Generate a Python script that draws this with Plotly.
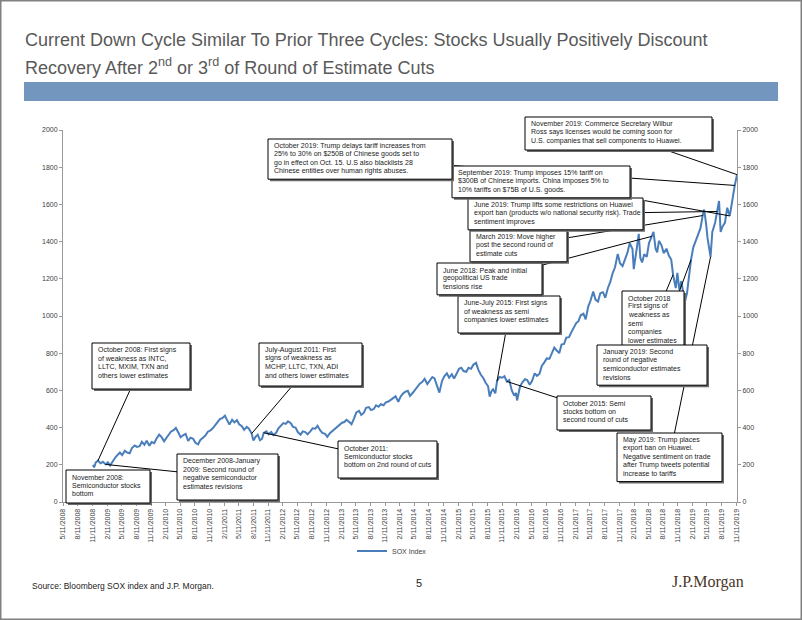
import plotly.graph_objects as go
import pandas as pd

# ---------------- data ----------------
dates = [
    "2008-11-14", "2008-11-21", "2008-12-01", "2008-12-15",
    "2009-01-01", "2009-01-15", "2009-02-01", "2009-02-15", "2009-03-01", "2009-03-15",
    "2009-04-01", "2009-04-15", "2009-05-01", "2009-05-15", "2009-06-01", "2009-06-15",
    "2009-07-01", "2009-07-15", "2009-08-01", "2009-08-15", "2009-09-01", "2009-09-15",
    "2009-10-01", "2009-10-15", "2009-11-01", "2009-11-15", "2009-12-01", "2009-12-15",
    "2010-01-01", "2010-01-15", "2010-02-01", "2010-02-15", "2010-03-01", "2010-03-15",
    "2010-04-01", "2010-04-15", "2010-05-01", "2010-05-15", "2010-06-01", "2010-06-15",
    "2010-07-01", "2010-07-15", "2010-08-01", "2010-08-15", "2010-09-01", "2010-09-15",
    "2010-10-01", "2010-10-15", "2010-11-01", "2010-11-15", "2010-12-01", "2010-12-15",
    "2011-01-01", "2011-01-15", "2011-02-01", "2011-02-15", "2011-03-01", "2011-03-15",
    "2011-04-01", "2011-04-15", "2011-05-01", "2011-05-15", "2011-06-01", "2011-06-15",
    "2011-07-01", "2011-07-15", "2011-08-01", "2011-08-12", "2011-08-25", "2011-09-08",
    "2011-09-22", "2011-10-05", "2011-10-15", "2011-11-01", "2011-11-15", "2011-12-01",
    "2011-12-15",
    "2012-01-01", "2012-01-15", "2012-02-01", "2012-02-15", "2012-03-01", "2012-03-15",
    "2012-04-01", "2012-04-15", "2012-05-01", "2012-05-15", "2012-06-01", "2012-06-15",
    "2012-07-01", "2012-07-15", "2012-08-01", "2012-08-15", "2012-09-01", "2012-09-15",
    "2012-10-01", "2012-10-15", "2012-11-01", "2012-11-15", "2012-12-01", "2012-12-15",
    "2013-01-01", "2013-01-15", "2013-02-01", "2013-02-15", "2013-03-01", "2013-03-15",
    "2013-04-01", "2013-04-15", "2013-05-01", "2013-05-15", "2013-06-01", "2013-06-15",
    "2013-07-01", "2013-07-15", "2013-08-01", "2013-08-15", "2013-09-01", "2013-09-15",
    "2013-10-01", "2013-10-15", "2013-11-01", "2013-11-15", "2013-12-01", "2013-12-15",
    "2014-01-01", "2014-01-15", "2014-02-01", "2014-02-15", "2014-03-01", "2014-03-15",
    "2014-04-01", "2014-04-15", "2014-05-01", "2014-05-15", "2014-06-01", "2014-06-15",
    "2014-07-01", "2014-07-15", "2014-08-01", "2014-08-15", "2014-09-01", "2014-09-15",
    "2014-10-01", "2014-10-15", "2014-11-01", "2014-11-15", "2014-12-01", "2014-12-15",
    "2015-01-01", "2015-01-15", "2015-02-01", "2015-02-15", "2015-03-01", "2015-03-15",
    "2015-04-01", "2015-04-15", "2015-05-01", "2015-05-15", "2015-06-01", "2015-06-15",
    "2015-07-01", "2015-07-15", "2015-08-01", "2015-08-15", "2015-08-25", "2015-09-05",
    "2015-09-15", "2015-09-29", "2015-10-10", "2015-10-25", "2015-11-10", "2015-11-25",
    "2015-12-10", "2015-12-25",
    "2016-01-10", "2016-01-25", "2016-02-05", "2016-02-12", "2016-03-01", "2016-03-15",
    "2016-04-01", "2016-04-15", "2016-05-01", "2016-05-15", "2016-06-01", "2016-06-15",
    "2016-07-01", "2016-07-15", "2016-08-01", "2016-08-15", "2016-09-01", "2016-09-15",
    "2016-10-01", "2016-10-15", "2016-11-01", "2016-11-15", "2016-12-01", "2016-12-15",
    "2017-01-01", "2017-01-15", "2017-02-01", "2017-02-15", "2017-03-01", "2017-03-15",
    "2017-04-01", "2017-04-15", "2017-05-01", "2017-05-15", "2017-06-01", "2017-06-15",
    "2017-07-01", "2017-07-15", "2017-08-01", "2017-08-15", "2017-09-01", "2017-09-15",
    "2017-10-01", "2017-10-15", "2017-11-01", "2017-11-15", "2017-12-01", "2017-12-15",
    "2018-01-01", "2018-01-15", "2018-02-01", "2018-02-09", "2018-02-20", "2018-03-01",
    "2018-03-12", "2018-03-22", "2018-04-02", "2018-04-15", "2018-05-01", "2018-05-15",
    "2018-06-01", "2018-06-12", "2018-06-25", "2018-07-05", "2018-07-16", "2018-08-01",
    "2018-08-15", "2018-09-01", "2018-09-15", "2018-10-01", "2018-10-12", "2018-10-29",
    "2018-11-08", "2018-11-20", "2018-12-03", "2018-12-24",
    "2019-01-07", "2019-01-18", "2019-02-01", "2019-02-15", "2019-03-01", "2019-03-15",
    "2019-04-01", "2019-04-15", "2019-04-24", "2019-05-06", "2019-05-15", "2019-06-03",
    "2019-06-14", "2019-07-01", "2019-07-15", "2019-07-26", "2019-08-05", "2019-08-15",
    "2019-09-01", "2019-09-15", "2019-10-01", "2019-10-15", "2019-11-01", "2019-11-15",
]

sox = [
    200, 186, 212, 222,
    208, 216, 202, 214, 196, 218,
    238, 252, 266, 252, 276, 266,
    262, 290, 304, 296, 300, 324,
    308, 330, 302, 322, 316, 340,
    362, 350, 326, 344, 358, 378,
    386, 398, 372, 348, 360, 366,
    328, 346, 340, 318, 310, 334,
    346, 356, 378, 384, 396, 412,
    426, 446, 452, 464, 440, 416,
    442, 428, 440, 418, 408, 388,
    404, 394, 368, 330, 350, 362,
    332, 340, 372, 380, 364, 376,
    360,
    372, 396, 412, 424, 420, 434,
    424, 404, 400, 376, 362, 380,
    376, 364, 380, 396, 394, 410,
    386, 372, 366, 350, 370, 380,
    392, 402, 416, 426, 430, 442,
    430, 418, 450, 482, 490, 468,
    480, 506, 510, 494, 500, 520,
    512, 526, 520, 536, 540, 548,
    556, 568, 538, 566, 582, 592,
    598, 570, 586, 602, 622, 636,
    646, 662, 634, 652, 672, 664,
    622, 588, 652, 676, 692, 668,
    686, 664, 692, 716, 722, 704,
    700, 722, 716, 738, 748, 712,
    684, 668, 640, 622, 566, 596,
    606, 584, 650, 672, 668, 676,
    648, 656,
    600, 572, 586, 546, 620, 642,
    660, 656, 630, 650, 692, 678,
    690, 732, 752, 772, 770, 794,
    830, 816, 800, 846, 850, 884,
    886, 912, 936, 962, 972, 1004,
    1012, 982, 1052, 1082, 1132, 1088,
    1078, 1122, 1128, 1098, 1152, 1182,
    1232, 1262, 1334, 1284, 1268, 1302,
    1342, 1392, 1360, 1252, 1336, 1372,
    1442, 1312, 1288, 1332, 1318, 1392,
    1428, 1452, 1362, 1342, 1404, 1380,
    1338, 1362, 1326, 1302, 1222, 1150,
    1232, 1142, 1188, 1072,
    1122, 1206, 1302, 1368, 1402, 1442,
    1472, 1540, 1572, 1498, 1420, 1318,
    1452, 1500, 1562, 1618, 1452, 1478,
    1502, 1582, 1538, 1622, 1702, 1760,
]

series_name = "SOX Index"
y_ticks = [0, 200, 400, 600, 800, 1000, 1200, 1400, 1600, 1800, 2000]
tick_years = list(range(2008, 2020))
tick_dates = []
tick_labels = []
for yr in tick_years:
    for m in [2, 5, 8, 11]:
        d = pd.Timestamp(yr, m, 11)
        if pd.Timestamp(2008, 5, 11) <= d <= pd.Timestamp(2019, 11, 11):
            tick_dates.append(d.strftime("%Y-%m-%d"))
            tick_labels.append(f"{m}/11/{yr}")

x_start, x_end = "2008-05-11", "2019-11-15"

title_1 = "Current Down Cycle Similar To Prior Three Cycles: Stocks Usually Positively Discount"
title_2 = "Recovery After 2<sup>nd</sup> or 3<sup>rd</sup> of Round of Estimate Cuts"
source_text = "Source: Bloomberg SOX index and J.P. Morgan."
page_no = "5"
logo_text = "J.P.Morgan"

# callouts: text, target date on the series (None = no leader line), box in figure pixels
callouts = [
    ("October 2008: First signs<br>of weakness as INTC,<br>LLTC, MXIM, TXN and<br>others lower estimates",
     "2008-12-15", (92, 343, 190, 389)),
    ("November 2008:<br>Semiconductor stocks<br>bottom",
     None, (66, 470, 150, 503)),
    ("December 2008-January<br>2009: Second round of<br>negative semiconductor<br>estimates revisions",
     "2009-02-01", (177, 454, 278, 500)),
    ("July-August 2011: First<br>signs of weakness as<br>MCHP, LLTC, TXN, ADI<br>and others lower estimates",
     "2011-08-01", (259, 343, 362, 386)),
    ("October 2011:<br>Semiconductor stocks<br>bottom on 2nd round of cuts",
     "2011-10-15", (338, 441, 437, 478)),
    ("June-July 2015: First signs<br>of weakness as semi<br>companies lower estimates",
     "2015-10-10", (458, 296, 560, 333)),
    ("October 2015: Semi<br>stocks bottom on<br>second round of cuts",
     "2015-12-10", (557, 396, 651, 430)),
    ("June 2018: Peak and initial<br>geopolitical US trade<br>tensions rise",
     "2018-06-01", (437, 263, 542, 292)),
    ("March 2019: Move higher<br>post the second round of<br>estimate cuts",
     "2019-04-15", (470, 230, 567, 258)),
    ("October 2018<br>First signs of<br>weakness as<br>semi<br>companies<br>lower estimates",
     "2018-10-12", (622, 291, 684, 354)),
    ("January 2019: Second<br>round of negative<br>semiconductor estimates<br>revisions",
     "2019-02-01", (597, 345, 707, 380)),
    ("May 2019: Trump places<br>export ban on Huawei.<br>Negative sentiment on trade<br>after Trump tweets potential<br>increase to tariffs",
     "2019-06-03", (617, 433, 722, 477)),
    ("June 2019: Trump lifts some restrictions on Huawei<br>export ban (products w/o national security risk). Trade<br>sentiment improves",
     "2019-07-15", (468, 198, 643, 227)),
    ("September 2019: Trump imposes 15% tariff on<br>$300B of Chinese imports. China imposes 5% to<br>10% tariffs on $75B of U.S. goods.",
     "2019-10-01", (452, 166, 630, 195)),
    ("October 2019: Trump delays tariff increases from<br>25% to 30% on $250B of Chinese goods set to<br>go in effect on Oct. 15. U.S also blacklists 28<br>Chinese entities over human rights abuses.",
     "2019-11-01", (268, 139, 452, 176)),
    ("November 2019: Commerce Secretary Wilbur<br>Ross says licenses would be coming soon for<br>U.S. companies that sell components to Huawei.",
     "2019-11-15", (525, 117, 712, 150)),
]

# ---------------- layout geometry ----------------
W, H = 802, 620
L, R, T, B = 63, 737, 130, 502
PW, PH = R - L, B - T
FS = 7            # callout font size
LS = 8.4          # callout line spacing (px)
PAD_X, PAD_TOP, PAD_BOT = 5, 7, 5


def px2x(px):
    return (px - L) / PW


def py2y(py):
    return (B - py) / PH


t0 = pd.Timestamp(x_start)
t1 = pd.Timestamp(x_end)
ser = pd.Series(sox, index=pd.to_datetime(dates))

ANN_FONT = dict(family="Arial, Liberation Sans, sans-serif", size=FS, color="#1a1a1a")
TITLE_FONT = dict(family="Arial, Liberation Sans, sans-serif", size=18, color="#595959")

fig = go.Figure()
fig.add_trace(go.Scatter(x=dates, y=sox, mode="lines", name=series_name,
                         line=dict(color="#4A7EBB", width=2), yaxis="y"))
fig.add_trace(go.Scatter(x=dates, y=sox, mode="lines", showlegend=False,
                         line=dict(color="rgba(0,0,0,0)", width=0), yaxis="y2",
                         hoverinfo="skip"))

leader_shapes = []
box_shapes = []
annotations = []

# outer frame + blue band
frame_shapes = [
    dict(type="rect", xref="paper", yref="paper",
         x0=px2x(0.75), x1=px2x(W - 0.75), y0=py2y(H - 0.75), y1=py2y(0.75),
         line=dict(color="#808080", width=1.5), fillcolor="rgba(0,0,0,0)"),
    dict(type="rect", xref="paper", yref="paper",
         x0=px2x(24), x1=px2x(778), y0=py2y(101), y1=py2y(82),
         line=dict(width=0), fillcolor="#7396BF"),
]

annotations.append(dict(text=title_1, xref="paper", yref="paper", x=px2x(23), y=py2y(40),
                        xanchor="left", yanchor="middle", showarrow=False, font=TITLE_FONT))
annotations.append(dict(text=title_2, xref="paper", yref="paper", x=px2x(23), y=py2y(67),
                        xanchor="left", yanchor="middle", showarrow=False, font=TITLE_FONT))

for text, tdate, (x0, y0, x1, y1) in callouts:
    lines = text.split("<br>")
    need = PAD_TOP + (len(lines) - 1) * LS + PAD_BOT + 3
    if y1 - y0 < need:
        y1 = y0 + need
    cx, cy = (x0 + x1) / 2, (y0 + y1) / 2
    if tdate is not None:
        idx = ser.index.get_indexer([pd.Timestamp(tdate)], method="nearest")[0]
        tx = ser.index[idx]
        tv = float(ser.iloc[idx])
        px = L + (tx - t0) / (t1 - t0) * PW
        py = T + (1 - tv / 2000) * PH
        dx, dy = px - cx, py - cy
        sx = ((x1 - x0) / 2) / abs(dx) if dx else 1e9
        sy = ((y1 - y0) / 2) / abs(dy) if dy else 1e9
        s = min(sx, sy)
        ex, ey = cx + dx * s, cy + dy * s
        leader_shapes.append(dict(type="line", xref="x", yref="y",
                                  xsizemode="pixel", ysizemode="pixel",
                                  xanchor=tx.strftime("%Y-%m-%d"), yanchor=tv,
                                  x0=0, y0=0, x1=ex - px, y1=py - ey,
                                  line=dict(color="#000000", width=1), layer="above"))
    box_shapes.append(dict(type="rect", xref="paper", yref="paper",
                           x0=px2x(x0 + 2), x1=px2x(x1 + 2), y0=py2y(y1 + 2), y1=py2y(y0 + 2),
                           line=dict(width=0), fillcolor="#6a6a6a", layer="above"))
    box_shapes.append(dict(type="rect", xref="paper", yref="paper",
                           x0=px2x(x0), x1=px2x(x1), y0=py2y(y1), y1=py2y(y0),
                           line=dict(color="#000000", width=1), fillcolor="#ffffff", layer="above"))
    for i, ln in enumerate(lines):
        annotations.append(dict(text=ln, xref="paper", yref="paper",
                                x=px2x(x0 + PAD_X), y=py2y(y0 + PAD_TOP + i * LS),
                                xanchor="left", yanchor="middle", showarrow=False,
                                borderpad=0, font=ANN_FONT))

annotations.append(dict(text=source_text, xref="paper", yref="paper", x=px2x(30), y=py2y(586),
                        xanchor="left", yanchor="middle", showarrow=False,
                        font=dict(family="Arial, Liberation Sans", size=8.5, color="#222222")))
annotations.append(dict(text=page_no, xref="paper", yref="paper", x=px2x(419), y=py2y(583),
                        xanchor="center", yanchor="middle", showarrow=False,
                        font=dict(family="Arial, Liberation Sans", size=11, color="#222222")))
annotations.append(dict(text=logo_text, xref="paper", yref="paper", x=px2x(670), y=py2y(582),
                        xanchor="left", yanchor="middle", showarrow=False,
                        font=dict(family="Liberation Serif, Times New Roman, serif", size=16, color="#4a3626")))

axis_font = dict(family="Arial, Liberation Sans, sans-serif", size=7, color="#404040")

fig.update_layout(
    width=W, height=H,
    margin=dict(l=L, r=W - R, t=T, b=H - B, pad=0),
    paper_bgcolor="white", plot_bgcolor="white",
    showlegend=True,
    legend=dict(orientation="h", x=px2x(392), y=py2y(551), xanchor="center", yanchor="middle",
                font=dict(family="Arial, Liberation Sans", size=7, color="#404040"),
                bgcolor="rgba(0,0,0,0)"),
    xaxis=dict(type="date", range=[x_start, x_end], tickmode="array",
               tickvals=tick_dates, ticktext=tick_labels, tickangle=-90,
               tickfont=axis_font, ticks="outside", ticklen=3, tickcolor="#999999",
               showline=True, linecolor="#999999", linewidth=1, showgrid=False, zeroline=False),
    yaxis=dict(range=[0, 2000], tickmode="array", tickvals=y_ticks, tickfont=axis_font,
               ticks="outside", ticklen=3, tickcolor="#999999",
               showline=True, linecolor="#999999", linewidth=1, showgrid=False, zeroline=False),
    yaxis2=dict(range=[0, 2000], tickmode="array", tickvals=y_ticks, tickfont=axis_font,
                overlaying="y", side="right",
                ticks="outside", ticklen=3, tickcolor="#999999",
                showline=True, linecolor="#999999", linewidth=1, showgrid=False, zeroline=False),
    shapes=frame_shapes + leader_shapes + box_shapes,
    annotations=annotations,
)

fig.write_html("out.html", config={"displayModeBar": False},
               post_script="document.body.style.margin='0px';")
